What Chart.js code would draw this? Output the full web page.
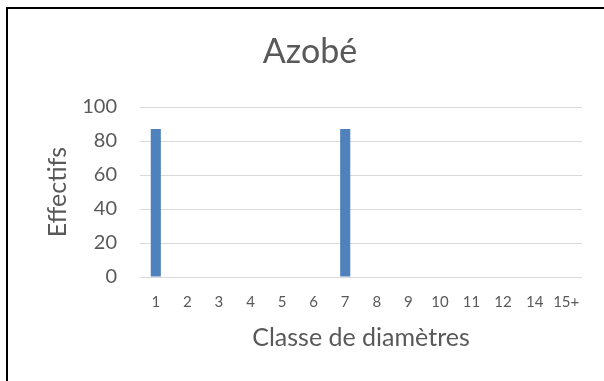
<!DOCTYPE html>
<html lang="fr">
<head>
<meta charset="utf-8">
<title>Azobé</title>
<script src="https://cdn.jsdelivr.net/npm/chart.js@4/dist/chart.umd.min.js"></script>
<style>
  html, body { margin: 0; padding: 0; background: #fff; }
  #wrap { position: relative; width: 604px; height: 381px; overflow: hidden; }
  #frame { position: absolute; left: 6px; top: 7px; width: 700px; height: 500px; border: 2px solid #000; box-sizing: border-box; }
  #c { position: absolute; left: 0; top: 0; }
</style>
</head>
<body>
<div id="wrap">
  <div id="frame"></div>
  <canvas id="c" width="604" height="381"></canvas>
</div>
<script>
// Diameter classes and tree counts
const classes = ['1', '2', '3', '4', '5', '6', '7', '8', '9', '10', '11', '12', '14', '15+'];
const effectifs = [87, 0, 0, 0, 0, 0, 87, 0, 0, 0, 0, 0, 0, 0];
const yTicks = [0, 20, 40, 60, 80, 100];

const TEXT = '#595959';
const FONT = 'Lato, "Open Sans", sans-serif';

new Chart(document.getElementById('c'), {
  type: 'bar',
  data: {
    labels: classes,
    datasets: [{
      label: 'Effectifs',
      data: effectifs,
      backgroundColor: '#4f81bd',
      borderWidth: 0,
      barPercentage: 0.32,
      categoryPercentage: 1.0
    }]
  },
  options: {
    responsive: false,
    animation: false,
    layout: { padding: { left: 38, right: 22, top: 0, bottom: 0 } },
    plugins: {
      legend: { display: false },
      tooltip: { enabled: false },
      title: {
        display: true,
        text: 'Azobé',
        color: TEXT,
        font: { family: FONT, size: 34, weight: 'normal' },
        padding: { top: 31.6, bottom: 34.6 }
      }
    },
    scales: {
      x: {
        grid: { display: false, drawTicks: false },
        border: { display: false },
        ticks: {
          color: TEXT,
          font: { family: FONT, size: 15 },
          padding: 16,
          maxRotation: 0,
          autoSkip: false
        },
        title: {
          display: true,
          text: 'Classe de diamètres',
          color: TEXT,
          font: { family: FONT, size: 25 },
          padding: { top: 0, bottom: 28 }
        },
        afterFit(scale) { scale.height = 104; }
      },
      y: {
        min: yTicks[0],
        max: yTicks[yTicks.length - 1],
        grid: { color: '#d9d9d9', lineWidth: 1, drawTicks: false },
        border: { display: false },
        afterBuildTicks(scale) { scale.ticks = yTicks.map(v => ({ value: v })); },
        ticks: {
          color: TEXT,
          font: { family: FONT, size: 20 },
          padding: 23
        },
        title: {
          display: true,
          text: 'Effectifs',
          color: TEXT,
          font: { family: FONT, size: 25 },
          padding: { top: 5, bottom: 0 }
        },
        afterFit(scale) { scale.width = 102; }
      }
    }
  }
});
</script>
</body>
</html>
